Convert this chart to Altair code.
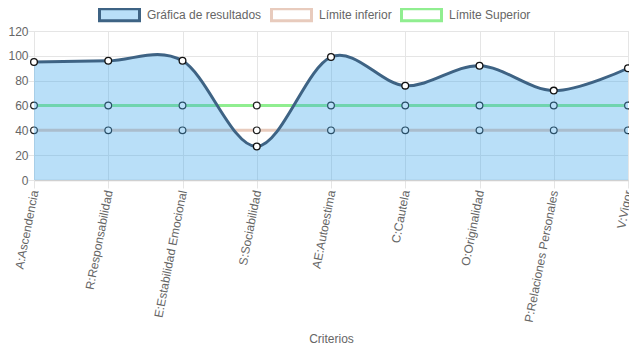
import altair as alt
import pandas as pd

criterios = ["A:Ascendencia", "R:Responsabilidad", "E:Estabilidad Emocional",
             "S:Sociabilidad", "AE:Autoestima", "C:Cautela", "O:Originalidad",
             "P:Relaciones Personales", "V:Vigor"]
resultados = [95, 96, 96, 27, 99, 76, 92, 72, 90]
limite_inferior = [40, 40, 40, 40, 40, 40, 40, 40, 40]
limite_superior = [60, 60, 60, 60, 60, 60, 60, 60, 60]
y_ticks = [0, 20, 40, 60, 80, 100, 120]

series = ["Gráfica de resultados", "Límite inferior", "Límite Superior"]
fill_colors = ["rgba(54,162,235,0.35)", "#ffffff", "#ffffff"]
stroke_colors = ["#3e6384", "#e8cbbd", "#90ee90"]

rows = []
for name, vals in zip(series, [resultados, limite_inferior, limite_superior]):
    for c, v in zip(criterios, vals):
        rows.append({"criterio": c, "serie": name, "valor": v})
df = pd.DataFrame(rows)

FONT = "Liberation Sans"
GRID = "#e5e5e5"
TXT = "#666666"

x = alt.X("criterio:N", sort=criterios,
          scale=alt.Scale(type="point", padding=0),
          axis=alt.Axis(title="Criterios", labelAngle=281, labelAlign="right",
                        labelBaseline="middle", labelPadding=2, tickSize=8,
                        tickColor=GRID, gridColor=GRID, grid=True,
                        domainColor="#d0d0d0", domainWidth=1.5,
                        labelColor=TXT, labelFontSize=12, labelFont=FONT,
                        labelLimit=0,
                        titleColor=TXT, titleFontSize=12, titleFont=FONT,
                        titleFontWeight="normal", titleY=153, titleBaseline="top"))
y = alt.Y("valor:Q",
          scale=alt.Scale(domain=[0, 120], nice=False),
          axis=alt.Axis(title=None, values=y_ticks, tickSize=6, labelPadding=0,
                        tickColor=GRID, gridColor=GRID, domainColor=GRID,
                        labelColor=TXT, labelFontSize=12, labelFont=FONT))

leg = alt.Legend(title=None, orient="none", direction="horizontal",
                 legendX=64, legendY=-38,
                 symbolType="M-1,-0.3H1V0.3H-1Z", symbolSize=1600,
                 symbolStrokeWidth=3, symbolOpacity=1,
                 labelFontSize=12, labelColor=TXT,
                 labelFont=FONT, columnPadding=3, labelOffset=6)

stroke_scale = alt.Scale(domain=series, range=stroke_colors)
fill_scale = alt.Scale(domain=series, range=fill_colors)

base = alt.Chart(df)
limits = base.transform_filter(alt.datum.serie != series[0])
res = base.transform_filter(alt.datum.serie == series[0])

limit_lines = limits.mark_line(strokeWidth=3).encode(
    x=x, y=y, detail="serie:N",
    stroke=alt.Stroke("serie:N", scale=stroke_scale, legend=leg))
limit_pts = limits.mark_point(filled=False, fill="white", stroke="#222222",
                              strokeWidth=1.2, size=45, opacity=1).encode(x=x, y=y, detail="serie:N")
area = res.mark_area(interpolate="cardinal", color="#36a2eb", fillOpacity=0.35).encode(x=x, y=y)
line = res.mark_line(interpolate="cardinal", color="#3e6384", strokeWidth=3).encode(x=x, y=y)
pts = res.mark_point(filled=False, fill="white", stroke="#111111",
                     strokeWidth=1.3, size=45, opacity=1).encode(x=x, y=y)
legend_layer = base.transform_filter(alt.datum.valor < 0).mark_point(
    filled=True, strokeWidth=3, opacity=1).encode(
    x=x, y=y,
    fill=alt.Fill("serie:N", scale=fill_scale, legend=leg),
    stroke=alt.Stroke("serie:N", scale=stroke_scale, legend=leg))

chart = alt.layer(limit_lines, limit_pts, area, line, pts, legend_layer).properties(
    width=594, height=149,
    autosize=alt.AutoSizeParams(type="none"),
    padding={"left": 26, "top": 23, "right": 1, "bottom": 165},
).configure_view(stroke=None).configure(font=FONT)

chart.save("out.html", embed_options={"renderer": "svg", "actions": False})
